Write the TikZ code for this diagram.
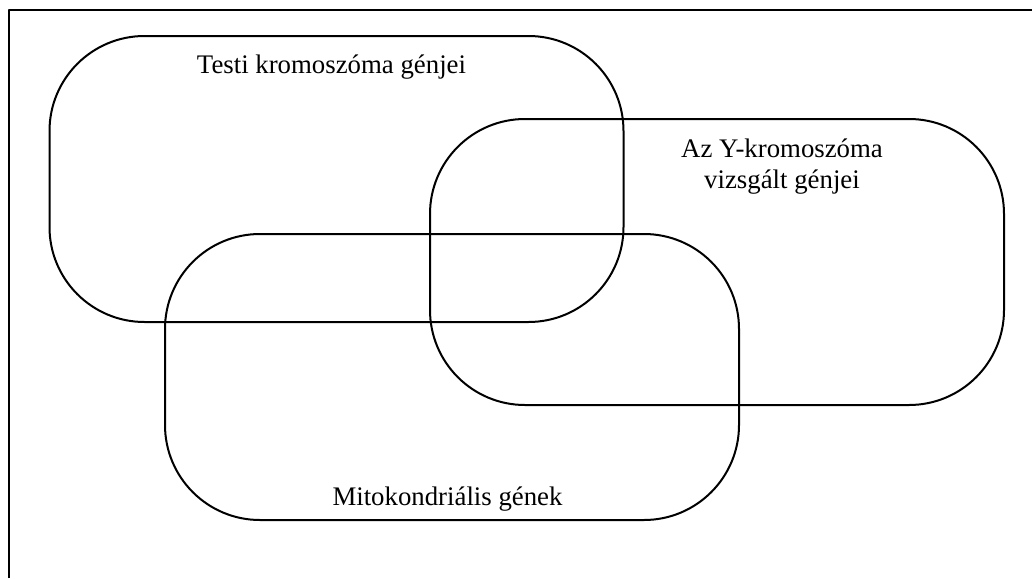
\documentclass[tikz,border=0pt]{standalone}
\usepackage{fontspec}
\setmainfont{Liberation Serif}
\usetikzlibrary{positioning}

\begin{document}
\begin{tikzpicture}[line cap=round,line join=round,x=0.5pt,y=-0.5pt]
\tikzset{halmaz/.style={draw,line width=1pt,rounded corners=47.5pt,minimum width=287pt,minimum height=143pt,inner sep=0pt},
  felirat/.style={font=\fontsize{13.4}{15.5}\selectfont,align=center,inner sep=0pt,anchor=base}}
\useasboundingbox (0,0) rectangle (1032,578);
\draw [line width=1pt,line cap=butt] (8.5,578) -- (8.5,10) -- (1032,10);
\node[halmaz] (testi) at (336.5,179) {};
\node[halmaz] (ykrom) at (717,262) {};
\node[halmaz] (mito) at (452,377) {};
\node[felirat] (testilbl) at (331.5,73) {Testi kromoszóma génjei};
\node[felirat] (ykromlbl) at (782,188) {Az Y-kromoszóma\\vizsgált génjei};
\node[felirat] (mitolbl) at (447.5,505) {Mitokondriális gének};
\end{tikzpicture}
\end{document}
